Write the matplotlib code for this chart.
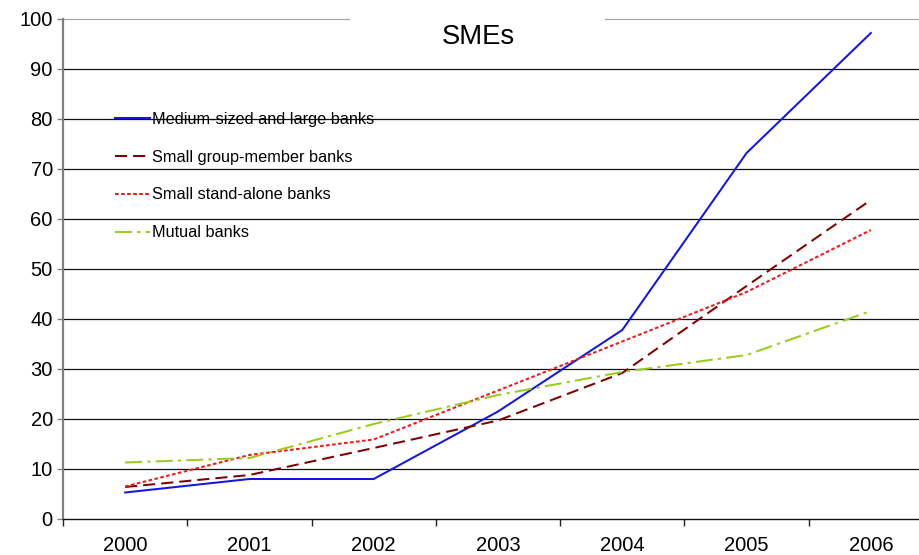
import matplotlib
matplotlib.use("Agg")
import matplotlib.pyplot as plt
from matplotlib.patches import Rectangle

plt.rcParams['font.family'] = ['Liberation Sans', 'DejaVu Sans']

years = ['2000', '2001', '2002', '2003', '2004', '2005', '2006']
y_ticks = [0, 10, 20, 30, 40, 50, 60, 70, 80, 90, 100]

medium_large = [5.3, 8.0, 8.0, 21.5, 37.8, 73.2, 97.2]
small_group = [6.4, 8.8, 14.2, 19.7, 29.2, 46.6, 63.8]
small_standalone = [6.5, 12.8, 15.9, 25.7, 35.5, 45.4, 57.8]
mutual = [11.3, 12.2, 19.0, 24.8, 29.4, 32.8, 41.6]

series = [
    ('Medium-sized and large banks', medium_large, '#1414E6', None),
    ('Small group-member banks', small_group, '#800000', (6, 3)),
    ('Small stand-alone banks', small_standalone, '#F01818', (1.8, 1.2)),
    ('Mutual banks', mutual, '#9ACD1A', (8.4, 2.6, 1.6, 2.6)),
]

W, H = 920, 555
fig = plt.figure(figsize=(W / 100, H / 100), dpi=100)
ax = fig.add_axes([63 / W, 1 - 519 / H, (933 - 63) / W, 500 / H])

x = list(range(len(years)))
for label, vals, color, dashes in series:
    line, = ax.plot(x, vals, color=color, lw=1.45, label=label)
    if dashes:
        line.set_dashes(dashes)

ax.set_xlim(-0.5, len(years) - 0.5)
ax.set_ylim(0, 100)

# horizontal grid, top one lighter
for v in y_ticks[1:]:
    ax.axhline(v, color='#A8A8A8' if v == 100 else '#111111', lw=0.9,
               zorder=0, clip_on=False)

ax.set_yticks(y_ticks)
ax.tick_params(axis='y', length=4.3, width=1.0, color='#808080', pad=3,
               labelsize=14.5)

# category axis: ticks on the boundaries, labels centred
ax.set_xticks([i - 0.5 for i in range(len(years) + 1)])
ax.set_xticklabels([])
ax.set_xticks(x, minor=True)
ax.set_xticklabels(years, minor=True)
ax.tick_params(axis='x', which='major', length=5, width=1.0, color='#222222')
ax.tick_params(axis='x', which='minor', length=0, pad=12.5, labelsize=14.5)

for side in ('top', 'right'):
    ax.spines[side].set_visible(False)
ax.spines['left'].set_color('#808080')
ax.spines['left'].set_linewidth(1.6)
ax.spines['bottom'].set_color('#111111')
ax.spines['bottom'].set_linewidth(1.0)

# title sits in a white box that breaks the top line
fig.patches.append(Rectangle((350 / W, 1 - 30 / H), 255 / W, 20 / H,
                             transform=fig.transFigure, facecolor='white',
                             edgecolor='none', zorder=5))
fig.text(478 / W, 1 - 37 / H, 'SMEs', ha='center', va='center',
         fontsize=19.7, zorder=6)

ax.legend(loc='upper left', bbox_to_anchor=(115 / W, 1 - 112 / H),
          bbox_transform=fig.transFigure, frameon=False, fontsize=11.7,
          borderpad=0, borderaxespad=0, handlelength=2.15,
          handletextpad=0.1, labelspacing=1.4)

fig.savefig('out.png', dpi=100)
